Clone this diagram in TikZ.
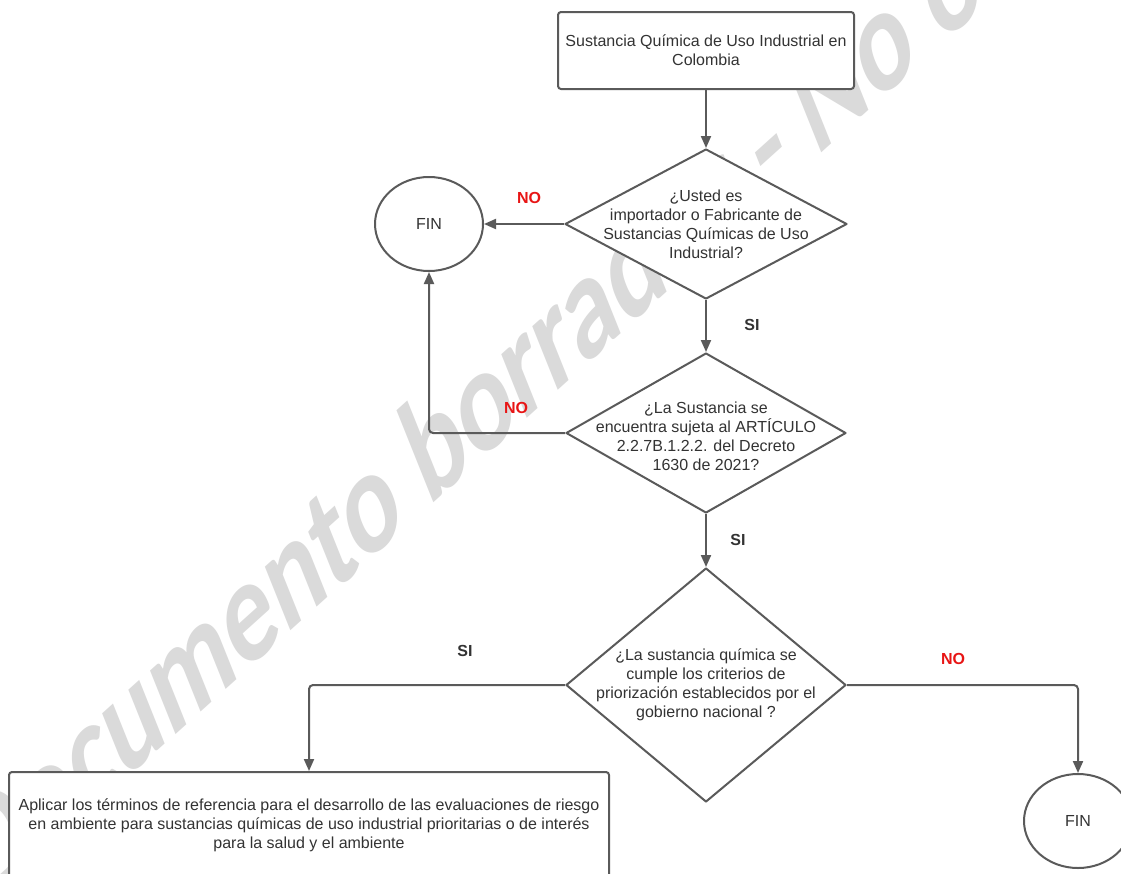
\documentclass[tikz,border=0pt]{standalone}
\usepackage{fontspec}
\setmainfont{Liberation Sans}
\newfontfamily\wmfont{Carlito}
\usetikzlibrary{shapes.geometric, arrows.meta}
\definecolor{edge}{HTML}{5A5A5A}
\definecolor{ink}{HTML}{333333}
\definecolor{noRed}{HTML}{E81515}
\definecolor{wmark}{HTML}{DADADA}
\begin{document}
\begin{tikzpicture}[x=1pt, y=-1pt,
  every node/.style={font=\fontsize{16}{19}\selectfont, text=ink},
  flowline/.style={draw=edge, line width=2pt},
  arrowline/.style={flowline, -{Triangle[length=12pt, width=10pt]}},
  procbox/.style={rectangle, rounded corners=3pt, draw=edge, line width=2pt,
    fill=white, align=center, inner sep=0pt},
  decision/.style={diamond, draw=edge, line width=2pt, fill=white,
    inner sep=0pt, line join=round},
  terminal/.style={ellipse, draw=edge, line width=2pt, fill=white,
    minimum width=108pt, minimum height=94pt},
  nolabel/.style={text=noRed, font=\fontsize{16}{19}\selectfont\bfseries},
  silabel/.style={text=ink, font=\fontsize{16}{19}\selectfont\bfseries},
  wmtext/.style={text=wmark, font=\wmfont\bfseries\fontsize{102}{102}\selectfont,
    inner sep=0pt},
]
\useasboundingbox (0,0) rectangle (1121,873);
\clip (0,0) rectangle (1121,873);
\fill[white] (0,0) rectangle (1121,873);

% draft watermark, stretched diagonally behind the chart
\begin{scope}[shift={(-15,907)}, yscale=1.5]
  \node[wmtext, rotate=31, transform shape, anchor=base west] (wm) at (0,0)
    {Documento borrador - No oficial};
\end{scope}

% process boxes
\node[procbox, minimum width=296pt, minimum height=77pt] (start) at (706,50.5)
  {Sustancia Química de Uso Industrial en\\Colombia};
\node[procbox, minimum width=600pt, minimum height=106pt] (apply) at (309,825)
  {Aplicar los términos de referencia para el desarrollo de las evaluaciones de riesgo\\
   en ambiente para sustancias químicas de uso industrial prioritarias o de interés\\
   para la salud y el ambiente};

% decisions
\node[decision, minimum width=282pt, minimum height=150pt,
  label={[align=center]center:{¿Usted es\\importador o Fabricante de\\Sustancias Químicas de Uso\\Industrial?}}]
  (q1) at (706,224) {};
\node[decision, minimum width=280pt, minimum height=160pt,
  label={[align=center, yshift=-3pt]center:{¿La Sustancia se\\encuentra sujeta al ARTÍCULO\\2.2.7B.1.2.2. del Decreto\\1630 de 2021?}}]
  (q2) at (706,433) {};
\node[decision, minimum width=280pt, minimum height=234pt,
  label={[align=center]center:{¿La sustancia química se\\cumple los criterios de\\priorización establecidos por el\\gobierno nacional ?}}]
  (q3) at (706,685) {};

% end points
\node[terminal] (fin1) at (429,224) {FIN};
\node[terminal] (fin2) at (1078,821) {FIN};

% connectors
\draw[arrowline] (start.south) -- (q1.north);
\draw[arrowline] (q1.west) -- (fin1.east);
\draw[arrowline] (q1.south) -- (q2.north);
\draw[arrowline, rounded corners=4pt] (q2.west) -| (fin1.south);
\draw[arrowline] (q2.south) -- (q3.north);
\draw[arrowline, rounded corners=4pt] (q3.west) -| (apply.north);
\draw[arrowline, rounded corners=4pt] (q3.east) -| (fin2.north);

% branch labels
\node[nolabel] (no1) at (529,198) {NO};
\node[nolabel] (no2) at (516,408) {NO};
\node[nolabel] (no3) at (953,659) {NO};
\node[silabel] (si1) at (752,325) {SI};
\node[silabel] (si2) at (738,540) {SI};
\node[silabel] (si3) at (465,651) {SI};
\end{tikzpicture}
\end{document}
